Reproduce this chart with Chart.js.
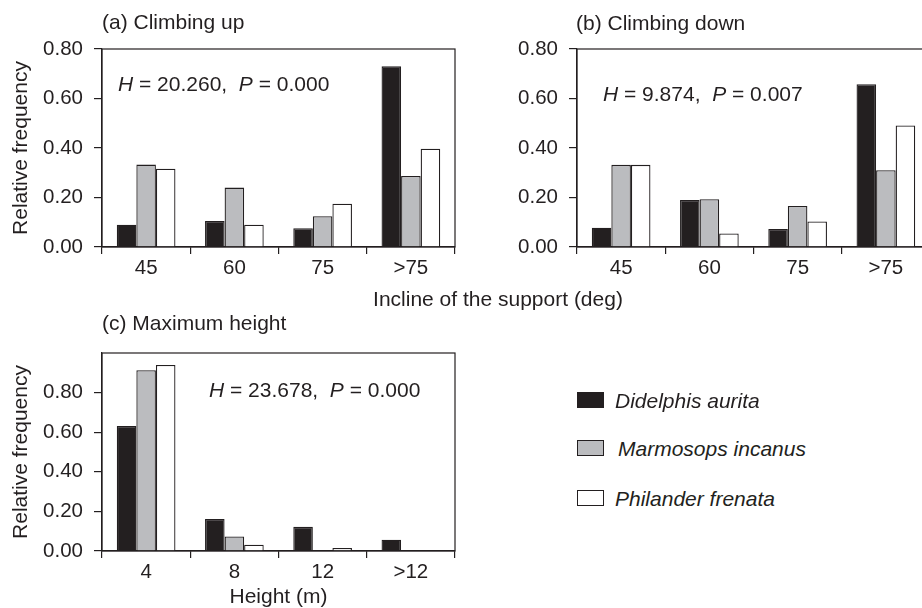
<!DOCTYPE html>
<html>
<head>
<meta charset="utf-8">
<script src="https://cdn.jsdelivr.net/npm/chart.js@4.4.0/dist/chart.umd.min.js"></script>
<style>
html,body{margin:0;padding:0;background:#fff;}
body{width:922px;height:608px;overflow:hidden;position:relative;font-family:"Liberation Sans",Arial,sans-serif;color:#231f20;}
canvas{position:absolute;}
.t{position:absolute;font-size:21px;line-height:24px;white-space:nowrap;transform:translateY(-50%);}
.c{transform:translate(-50%,-50%);}
.sw{position:absolute;width:25px;height:14px;border:1.3px solid #231f20;}
.lg{position:absolute;font-size:21px;line-height:24px;font-style:italic;white-space:nowrap;transform:translateY(-50%);}
</style>
</head>
<body>
<canvas id="cA" width="470" height="285" style="left:0;top:0;width:470px;height:285px"></canvas>
<canvas id="cB" width="470" height="285" style="left:475px;top:0;width:470px;height:285px"></canvas>
<canvas id="cC" width="470" height="308" style="left:0;top:300px;width:470px;height:308px"></canvas>

<div class="t" style="left:102px;top:21.5px">(a) Climbing up</div>
<div class="t" style="left:576px;top:22.5px">(b) Climbing down</div>
<div class="t" style="left:102px;top:322.5px">(c) Maximum height</div>
<div class="t" style="left:118px;top:84px"><i>H</i> = 20.260,&nbsp; <i>P</i> = 0.000</div>
<div class="t" style="left:603px;top:94px"><i>H</i> = 9.874,&nbsp; <i>P</i> = 0.007</div>
<div class="t" style="left:209px;top:390px"><i>H</i> = 23.678,&nbsp; <i>P</i> = 0.000</div>
<div class="t c" style="left:498px;top:299px">Incline of the support (deg)</div>

<div id="legend"></div>

<script>
// ---- data ----
const inclineCategories = ['45', '60', '75', '>75'];
const heightCategories = ['4', '8', '12', '>12'];
const seriesNames = ['Didelphis aurita', 'Marmosops incanus', 'Philander frenata'];

const upDidelphis = [0.09, 0.105, 0.076, 0.73];
const upMarmosops = [0.333, 0.24, 0.124, 0.287];
const upPhilander = [0.316, 0.09, 0.175, 0.397];

const downDidelphis = [0.078, 0.19, 0.073, 0.658];
const downMarmosops = [0.332, 0.193, 0.166, 0.31];
const downPhilander = [0.332, 0.055, 0.103, 0.491];

const heightDidelphis = [0.631, 0.162, 0.122, 0.057];
const heightMarmosops = [0.913, 0.073, 0, 0];
const heightPhilander = [0.94, 0.032, 0.015, 0];

const freqTicks = [0, 0.2, 0.4, 0.6, 0.8];

// ---- styles ----
const INK = '#231f20';
const fills = ['#231f20', '#bbbcbf', '#ffffff'];

const boxPlugin = {
  id: 'box',
  afterDatasetsDraw(chart) {
    const { ctx, chartArea: a } = chart;
    ctx.save();
    ctx.strokeStyle = INK;
    ctx.lineWidth = 1.2;
    ctx.strokeRect(a.left, a.top, a.right - a.left, a.bottom - a.top);
    ctx.restore();
  }
};

function makeChart(id, labels, series, o) {
  return new Chart(document.getElementById(id), {
    type: 'bar',
    data: {
      labels: labels,
      datasets: series.map((d, i) => ({
        label: seriesNames[i],
        data: d,
        backgroundColor: fills[i],
        borderColor: INK,
        borderWidth: 1.3,
        borderSkipped: 'bottom',
        categoryPercentage: 0.665,
        barPercentage: 1.0
      }))
    },
    options: {
      responsive: false,
      animation: false,
      layout: { padding: o.padding },
      plugins: { legend: { display: false }, tooltip: { enabled: false } },
      scales: {
        x: {
          type: 'category',
          offset: true,
          grid: { offset: true, drawOnChartArea: false, drawTicks: true, tickLength: 7, color: INK, lineWidth: 1.2 },
          border: { display: true, color: INK, width: 1.2 },
          ticks: { color: INK, font: { family: 'Liberation Sans', size: 20.5 }, padding: 2, maxRotation: 0, autoSkip: false },
          title: o.xTitle ? { display: true, text: o.xTitle, color: INK, font: { family: 'Liberation Sans', size: 21, lineHeight: 1.0 }, padding: { top: 0, bottom: 0 } } : { display: false },
          afterFit(scale) { scale.height = o.xHeight; }
        },
        y: {
          min: 0,
          max: o.yMax,
          afterBuildTicks(scale) { scale.ticks = freqTicks.map(v => ({ value: v })); },
          grid: { drawOnChartArea: false, drawTicks: true, tickLength: 8, color: INK, lineWidth: 1.2 },
          border: { display: true, color: INK, width: 1.2 },
          ticks: { color: INK, font: { family: 'Liberation Sans', size: 20.5 }, padding: 11, callback: v => Number(v).toFixed(2) },
          title: o.yTitle ? { display: true, text: o.yTitle, color: INK, font: { family: 'Liberation Sans', size: 21 }, padding: { top: 9, bottom: 0 } } : { display: false },
          afterFit(scale) { scale.width = o.yWidth; }
        }
      }
    },
    plugins: [boxPlugin]
  });
}

makeChart('cA', inclineCategories, [upDidelphis, upMarmosops, upPhilander],
  { yMax: 0.8, yTitle: 'Relative frequency', padding: { top: 49, right: 15, bottom: 0, left: 0 }, yWidth: 102, xHeight: 38 });
makeChart('cB', inclineCategories, [downDidelphis, downMarmosops, downPhilander],
  { yMax: 0.8, yTitle: null, padding: { top: 49, right: 15, bottom: 0, left: 0 }, yWidth: 102, xHeight: 38 });
makeChart('cC', heightCategories, [heightDidelphis, heightMarmosops, heightPhilander],
  { yMax: 1.0, yTitle: 'Relative frequency', xTitle: 'Height (m)', padding: { top: 53, right: 15, bottom: 0, left: 0 }, yWidth: 102, xHeight: 57 });

// ---- legend (HTML) ----
const legendTops = [400, 448, 498];
const legendTextLeft = [615, 618, 615];
const lg = document.getElementById('legend');
seriesNames.forEach((name, i) => {
  const sw = document.createElement('div');
  sw.className = 'sw';
  sw.style.left = '577px';
  sw.style.top = (legendTops[i] - 8) + 'px';
  sw.style.background = fills[i];
  lg.appendChild(sw);
  const tx = document.createElement('div');
  tx.className = 'lg';
  tx.style.left = legendTextLeft[i] + 'px';
  tx.style.top = (legendTops[i] + 1) + 'px';
  tx.textContent = name;
  lg.appendChild(tx);
});
</script>
</body>
</html>
